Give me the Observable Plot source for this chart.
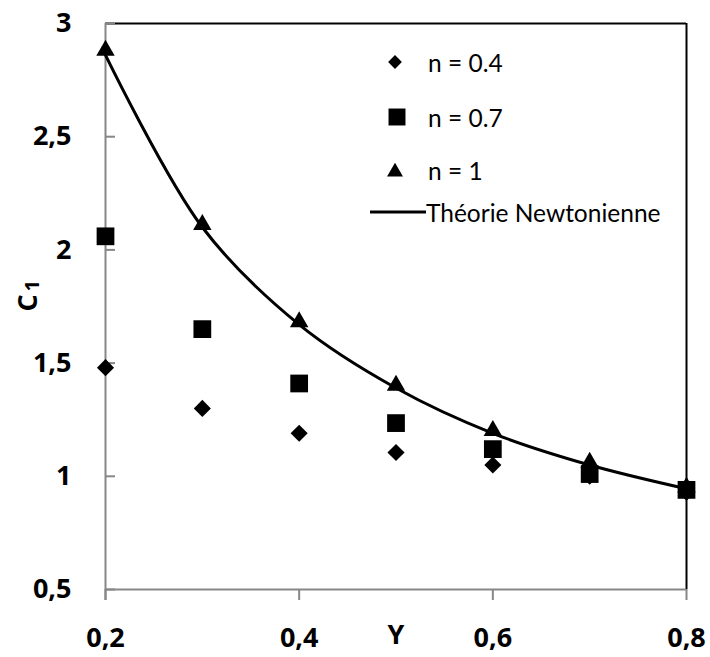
<!DOCTYPE html>
<html>
<head>
<meta charset="utf-8">
<script src="https://cdn.jsdelivr.net/npm/d3@7"></script>
<script src="https://cdn.jsdelivr.net/npm/@observablehq/plot@0.6"></script>
<style>
  html, body { margin: 0; padding: 0; background: #fff; }
  #wrap { position: relative; width: 710px; height: 657px; font-family: Lato, "Open Sans", sans-serif; }
  #legend { position: absolute; left: 0; top: 0; }
  .leg { position: absolute; display: flex; align-items: center; font-size: 24.5px; color: #000; white-space: nowrap; }
</style>
</head>
<body>
<div id="wrap"><div id="legend"></div></div>
<script>
// ---- data ----
const gammas = [0.2, 0.3, 0.4, 0.5, 0.6, 0.7, 0.8];
const c1_n04 = [1.48, 1.30, 1.19, 1.105, 1.05, 1.00, 0.93];
const c1_n07 = [2.06, 1.65, 1.41, 1.235, 1.12, 1.01, 0.94];
const c1_n1 = [2.87, 2.10, 1.67, 1.39, 1.19, 1.05, 0.94];
const c1_theory = [2.86, 2.10, 1.67, 1.39, 1.19, 1.05, 0.945];
const seriesNames = ["n = 0.4", "n = 0.7", "n = 1", "Théorie Newtonienne"];
const xTicks = [0.2, 0.4, 0.6, 0.8];
const yTicks = [0.5, 1, 1.5, 2, 2.5, 3];
const xDomain = [0.2, 0.8];
const yDomain = [0.5, 3];
const xLabel = "Y";
const yLabelMain = "C";
const yLabelSub = "1";

// ---- build ----
const toRows = (ys) => gammas.map((g, i) => ({x: g, y: ys[i]}));
const fmt = (d) => String(d).replace(".", ",");
const gray = "#878787";
const boldFont = "'Open Sans', 'Noto Sans', 'DejaVu Sans', sans-serif";

const R = {diamond2: 7.7, square2: 11.3, triangle2: 8.8};

const plot = Plot.plot({
  width: 710,
  height: 657,
  marginLeft: 105,
  marginRight: 24,
  marginTop: 23,
  marginBottom: 68,
  style: {fontFamily: boldFont, background: "white"},
  x: {domain: xDomain, axis: null},
  y: {domain: yDomain, axis: null},
  marks: [
    // plot-area border (top & right black)
    Plot.ruleY([yDomain[1]], {stroke: "black", strokeWidth: 2}),
    Plot.ruleX([xDomain[1]], {stroke: "black", strokeWidth: 2}),
    // axes lines (gray)
    Plot.ruleY([yDomain[0]], {stroke: gray, strokeWidth: 2}),
    Plot.ruleX([xDomain[0]], {stroke: gray, strokeWidth: 2, insetBottom: -11}),
    // x ticks & labels
    Plot.axisX({ticks: xTicks, tickSize: 11, tickPadding: 27, stroke: gray, strokeWidth: 2,
      fill: "black", tickFormat: fmt, fontSize: 27, fontWeight: "bold", label: null}),
    // y ticks (inward)
    Plot.axisY({ticks: yTicks, tickSize: -10, stroke: gray, strokeWidth: 2, tickFormat: () => "", label: null}),
    // y labels
    Plot.axisY({ticks: yTicks, tickSize: 0, tickPadding: 34, fill: "black", tickFormat: fmt,
      fontSize: 27, fontWeight: "bold", label: null}),
    // axis titles
    Plot.text([xLabel], {frameAnchor: "bottom", dy: 54, text: d => d, fontSize: 27, fontWeight: "bold", fill: "black"}),
    Plot.text([yLabelMain], {frameAnchor: "left", dx: -77, dy: 5, rotate: -90, text: d => d, fontSize: 27, fontWeight: "bold", fill: "black"}),
    Plot.text([yLabelSub], {frameAnchor: "left", dx: -73, dy: -15, rotate: -90, text: d => d, fontSize: 20, fontWeight: "bold", fill: "black"}),
    // theory curve
    Plot.line(toRows(c1_theory), {x: "x", y: "y", curve: "catmull-rom", stroke: "black", strokeWidth: 3}),
    // data series
    Plot.dot(toRows(c1_n04), {x: "x", y: "y", symbol: "diamond2", r: R.diamond2, fill: "black", stroke: "none"}),
    Plot.dot(toRows(c1_n07), {x: "x", y: "y", symbol: "square2", r: R.square2, fill: "black", stroke: "none"}),
    Plot.dot(toRows(c1_n1), {x: "x", y: "y", symbol: "triangle2", r: R.triangle2, dy: -2.6, fill: "black", stroke: "none"})
  ]
});
document.getElementById("wrap").prepend(plot);

// ---- legend (inside plot area) ----
const legend = d3.select("#legend");
const symPath = (name, r) => d3.symbol(name === "diamond2" ? d3.symbolDiamond2 : name === "square2" ? d3.symbolSquare2 : d3.symbolTriangle2, r * r * Math.PI)();
const entries = [
  {name: seriesNames[0], sym: "diamond2", r: 6.2, cx: 395, cy: 62, tx: 428},
  {name: seriesNames[1], sym: "square2", r: 10.8, cx: 397, cy: 117, tx: 428},
  {name: seriesNames[2], sym: "triangle2", r: 7.6, cx: 395, cy: 170, tx: 428},
  {name: seriesNames[3], sym: null, cx: 397, cy: 212, tx: 426}
];
for (const e of entries) {
  const g = legend.append("div").attr("class", "leg")
    .style("left", (e.sym ? e.cx - 15 : 370) + "px")
    .style("top", (e.cy - 15) + "px")
    .style("height", "30px");
  const w = e.sym ? 30 : 56;
  const svg = g.append("svg").attr("width", w).attr("height", 30).style("overflow", "visible");
  if (e.sym) {
    svg.append("path").attr("d", symPath(e.sym, e.r)).attr("transform", `translate(15,${e.sym === "triangle2" ? 17 : 15})`).attr("fill", "black");
  } else {
    svg.append("line").attr("x1", 0).attr("x2", 56).attr("y1", 15).attr("y2", 15).attr("stroke", "black").attr("stroke-width", 3);
  }
  g.append("span").text(e.name).style("margin-left", (e.tx - (e.sym ? e.cx - 15 : 370) - w) + "px");
}
</script>
</body>
</html>
